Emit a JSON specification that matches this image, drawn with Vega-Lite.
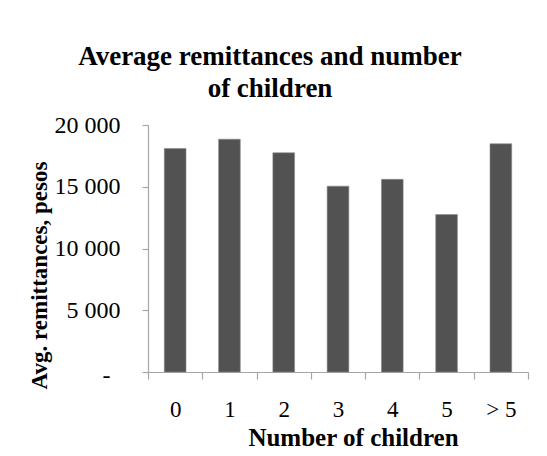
{
  "$schema": "https://vega.github.io/schema/vega-lite/v6.json",
  "width": 380,
  "height": 247,
  "autosize": {"type": "none"},
  "padding": {"left": 148, "top": 125, "right": 19, "bottom": 84},
  "background": "white",
  "title": {
    "text": ["Average remittances and number", "of children"],
    "anchor": "middle",
    "frame": "group",
    "dx": -68,
    "font": "Liberation Serif",
    "fontSize": 27,
    "fontWeight": "bold",
    "color": "#000000",
    "lineHeight": 32,
    "offset": 10
  },
  "data": {
    "values": [
      {"children": "0", "remittances": 18100},
      {"children": "1", "remittances": 18850},
      {"children": "2", "remittances": 17750},
      {"children": "3", "remittances": 15050},
      {"children": "4", "remittances": 15600},
      {"children": "5", "remittances": 12750},
      {"children": "> 5", "remittances": 18480}
    ]
  },
  "mark": {
    "type": "bar",
    "color": "#525252",
    "stroke": "#8c8c8c",
    "strokeWidth": 0.6,
    "width": {"band": 0.4}
  },
  "encoding": {
    "x": {
      "field": "children",
      "type": "ordinal",
      "sort": null,
      "scale": {"paddingInner": 0, "paddingOuter": 0},
      "axis": {
        "title": "Number of children",
        "labelAngle": 0,
        "tickBand": "extent",
        "tickSize": 7,
        "labelBaseline": "alphabetic",
        "labelPadding": 37,
        "labelFont": "Liberation Serif",
        "labelFontSize": 23,
        "labelColor": "#000000",
        "titleFont": "Liberation Serif",
        "titleFontSize": 25,
        "titleFontWeight": "bold",
        "titleColor": "#000000",
        "titleX": 205,
        "titleY": 73,
        "titleBaseline": "alphabetic",
        "titleAnchor": null
      }
    },
    "y": {
      "field": "remittances",
      "type": "quantitative",
      "scale": {"domain": [0, 20000], "nice": false},
      "axis": {
        "title": "Avg. remittances, pesos",
        "values": [0, 5000, 10000, 15000, 20000],
        "labelExpr": "datum.value == 0 ? '-' : replace(format(datum.value, ','), ',', ' ')",
        "grid": false,
        "tickSize": 6,
        "labelPadding": {"condition": {"test": "datum.value == 0", "value": 32}, "value": 22},
        "labelOffset": {"condition": {"test": "datum.value == 0", "value": 3}, "value": 0},
        "labelFont": "Liberation Serif",
        "labelFontSize": 24,
        "labelColor": "#000000",
        "titleFont": "Liberation Serif",
        "titleFontSize": 23,
        "titleFontWeight": "bold",
        "titleColor": "#000000",
        "titleAngle": -90,
        "titleX": -102,
        "titleY": 150,
        "titleBaseline": "alphabetic",
        "titleAlign": "center"
      }
    }
  },
  "config": {
    "view": {"stroke": null},
    "axis": {
      "domainColor": "#a6a6a6",
      "tickColor": "#a6a6a6",
      "domainWidth": 1.2,
      "tickWidth": 1.2
    }
  }
}
